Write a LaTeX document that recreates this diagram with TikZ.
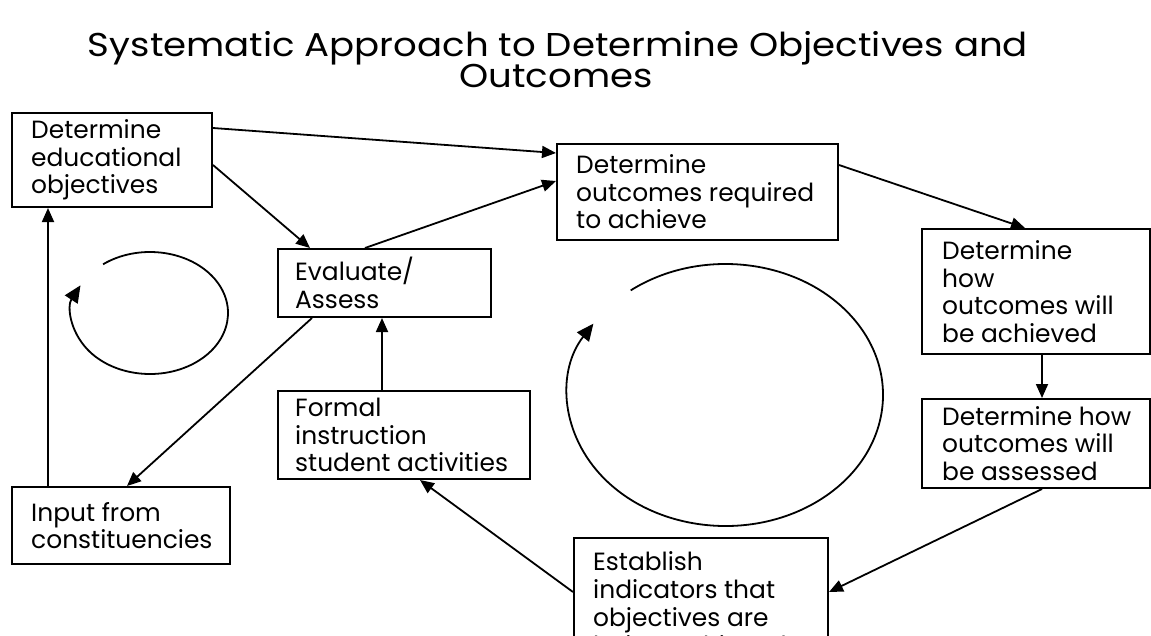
\documentclass[tikz,border=0pt]{standalone}
\usepackage{fontspec}
\setmainfont{Poppins}
\usetikzlibrary{arrows.meta,calc}
\newlength\titlewd
\newlength\refwd
\newcommand\titlefont{\fontsize{33}{30}\selectfont}
\begin{document}
\settowidth\refwd{\fontsize{25}{27}\selectfont outcomes required}%
\pgfmathsetmacro\bfs{25*238/\refwd}%
\settowidth\titlewd{\titlefont Systematic Approach to Determine Objectives and}%
\pgfmathsetmacro\tsx{940/\titlewd}%
\begin{tikzpicture}[x=1pt,y=-1pt,
  box/.style={draw, line width=2pt, rectangle, inner sep=0pt, anchor=north west},
  btext/.style={anchor=west, align=left, inner sep=0pt, font=\fontsize{\bfs}{27.5}\selectfont},
  conn/.style={line width=1.8pt, -{Triangle[length=14pt,width=12pt]}},
  loopar/.style={line width=1.8pt, -{Triangle[length=17pt,width=15pt]}}]
\useasboundingbox (0,0) rectangle (1151,635);
\clip (0,0) rectangle (1151,635);
\fill[white] (0,0) rectangle (1151,635);
% title
\node[anchor=base, inner sep=0pt, font=\titlefont] (t1) at (558,56)
  {\scalebox{\tsx}[1]{Systematic Approach to Determine Objectives and}};
\node[anchor=base, inner sep=0pt, font=\titlefont] (t2) at (556,87)
  {\scalebox{\tsx}[1]{Outcomes}};
% boxes
\node[box, minimum width=200pt, minimum height=94pt] (edu) at (11,112) {};
\node[btext] (edut) at ([xshift=20pt]edu.west) {Determine\\educational\\objectives};
\node[box, minimum width=281pt, minimum height=96pt] (out) at (556,143) {};
\node[btext] (outt) at ([xshift=20pt]out.west) {Determine\\outcomes required\\to achieve};
\node[box, minimum width=213pt, minimum height=68pt] (eval) at (277,248) {};
\node[btext] (evalt) at ([xshift=18pt]eval.west) {Evaluate/\\Assess};
\node[box, minimum width=228pt, minimum height=125pt] (how) at (921,228) {};
\node[btext] (howt) at ([xshift=21pt]how.west) {Determine\\how\\outcomes will\\be achieved};
\node[box, minimum width=228pt, minimum height=89pt] (assess) at (921,398) {};
\node[btext] (assesst) at ([xshift=21pt]assess.west) {Determine how\\outcomes will\\be assessed};
\node[box, minimum width=252pt, minimum height=88pt] (formal) at (277,390) {};
\node[btext] (formalt) at ([xshift=18pt]formal.west) {Formal\\instruction\\student activities};
\node[box, minimum width=218pt, minimum height=77pt] (input) at (11,486) {};
\node[btext] (inputt) at ([xshift=20pt]input.west) {Input from\\constituencies};
\node[box, minimum width=254pt, minimum height=120pt] (est) at (573,537) {};
\node[btext, anchor=north west, font=\fontsize{\bfs}{28}\selectfont] (estt)
  at ([xshift=20pt,yshift=-14pt]est.north west)
  {Establish\\indicators that\\objectives are\\being achieved};
% connectors
\draw[conn] ([yshift=-16pt]edu.north east) -- ([yshift=-10pt]out.north west);
\draw[conn] ([yshift=-53pt]edu.north east) -- ([xshift=33pt]eval.north west);
\draw[conn] ([xshift=88pt]eval.north west) -- ([yshift=-38pt]out.north west);
\draw[conn] ([yshift=-22pt]out.north east) -- ([xshift=104pt]how.north west);
\draw[conn] ([xshift=121pt]how.south west) -- ([xshift=121pt]assess.north west);
\draw[conn] ([xshift=121pt]assess.south west) -- ([yshift=-55pt]est.north east);
\draw[conn] ([yshift=-55pt]est.north west) -- ([xshift=143pt]formal.south west);
\draw[conn] ([xshift=105pt]formal.north west) -- ([xshift=105pt]eval.south west);
\draw[conn] ([xshift=35pt]eval.south west) -- ([xshift=116pt]input.north west);
\draw[conn] ([xshift=37pt]input.north west) -- ([xshift=37pt]edu.south west);
% cycle arrows
\coordinate (c1) at (150,313);
\coordinate (c2) at (725.5,395);
\draw[loopar] ([shift={(127:78pt and 61pt)}]c1)
  arc[start angle=127, end angle=-207, x radius=78pt, y radius=61pt];
\draw[loopar] ([shift={(127:157.5pt and 131pt)}]c2)
  arc[start angle=127, end angle=-213, x radius=157.5pt, y radius=131pt];
\end{tikzpicture}
\end{document}
